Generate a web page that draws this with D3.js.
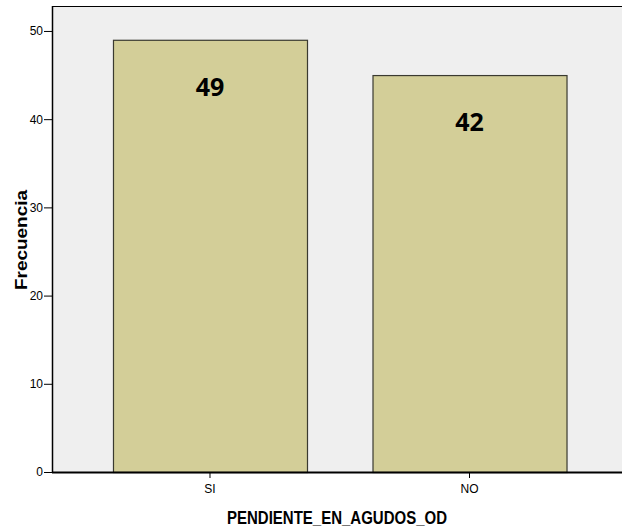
<!DOCTYPE html>
<html><head><meta charset="utf-8">
<script src="https://cdn.jsdelivr.net/npm/d3@7"></script>
<style>body{margin:0;background:#fff}svg{display:block}</style>
</head><body>
<svg id="c" width="622" height="528"></svg>
<script>
const categories = ["SI", "NO"];
const frequencies = [49, 45];
const barLabels = ["49", "42"];
const yTicks = [0, 10, 20, 30, 40, 50];
const xTitle = "PENDIENTE_EN_AGUDOS_OD";
const yTitle = "Frecuencia";

(function () {
const svg = d3.select("#c");
const pl = 52, pr = 627.5, pt = 6, pb = 472;

const x = d3.scaleBand().domain(categories).range([pl, pr]).paddingInner(0.2524).paddingOuter(0.235);
const y = d3.scaleLinear().domain([0, 52.83]).range([pb, pt]);

// plot background
svg.append("rect").attr("x", pl).attr("y", pt).attr("width", 622 - pl).attr("height", pb - pt)
  .attr("fill", "#efefef");
// top border
svg.append("line").attr("x1", pl).attr("x2", 622).attr("y1", pt + 0.5).attr("y2", pt + 0.5)
  .attr("stroke", "#000").attr("stroke-width", 1.2);

// bars
svg.selectAll("rect.bar").data(categories).enter().append("rect").attr("class", "bar")
  .attr("x", d => x(d) + 0.5)
  .attr("y", (d, i) => y(frequencies[i]) + 0.5)
  .attr("width", x.bandwidth())
  .attr("height", (d, i) => pb - y(frequencies[i]))
  .attr("fill", "#d3ce98").attr("stroke", "#3a3a30").attr("stroke-width", 1.2);

// bar labels
svg.selectAll("text.lbl").data(categories).enter().append("text").attr("class", "lbl")
  .attr("x", d => x(d) + x.bandwidth() / 2)
  .attr("y", (d, i) => y(frequencies[i]) + 56)
  .attr("text-anchor", "middle")
  .attr("font-family", "'Open Sans', 'Noto Sans', sans-serif").attr("font-weight", "bold").attr("font-size", 25)
  .attr("fill", "#000")
  .text((d, i) => barLabels[i]);

const axFont = "'Liberation Sans Narrow', 'Liberation Sans', Arial, sans-serif";

// y axis
const yAxis = svg.append("g").attr("transform", `translate(${pl},0)`)
  .call(d3.axisLeft(y).tickValues(yTicks).tickSize(8).tickPadding(1).tickFormat(d3.format("d")));
yAxis.select(".domain").attr("d", `M0.5,${pt}V${pb}`).attr("stroke", "#000").attr("stroke-width", 1.5);
yAxis.selectAll(".tick line").attr("stroke", "#000");
yAxis.selectAll(".tick text").attr("font-family", axFont).attr("font-size", 12).attr("fill", "#000");

// x axis
const xAxis = svg.append("g").attr("transform", `translate(0,${pb})`)
  .call(d3.axisBottom(x).tickSize(6).tickPadding(6));
xAxis.select(".domain").attr("d", `M${pl},0.5H622`).attr("stroke", "#000").attr("stroke-width", 2);
xAxis.selectAll(".tick line").attr("stroke", "#000");
xAxis.selectAll(".tick text").attr("font-family", axFont).attr("font-size", 12).attr("fill", "#000");

// titles
svg.append("text").attr("x", (pl + 622) / 2).attr("y", 523.5)
  .attr("text-anchor", "middle").attr("font-family", "'Liberation Sans', Arial, sans-serif")
  .attr("font-weight", "bold").attr("font-size", 19)
  .attr("textLength", 220).attr("lengthAdjust", "spacingAndGlyphs").text(xTitle);
svg.append("text").attr("transform", `translate(27,${(pt + pb) / 2 + 1}) rotate(-90)`)
  .attr("text-anchor", "middle").attr("font-family", "'Liberation Sans', Arial, sans-serif")
  .attr("font-weight", "bold").attr("font-size", 16)
  .attr("textLength", 100).attr("lengthAdjust", "spacingAndGlyphs").text(yTitle);
})();
</script>
</body></html>
